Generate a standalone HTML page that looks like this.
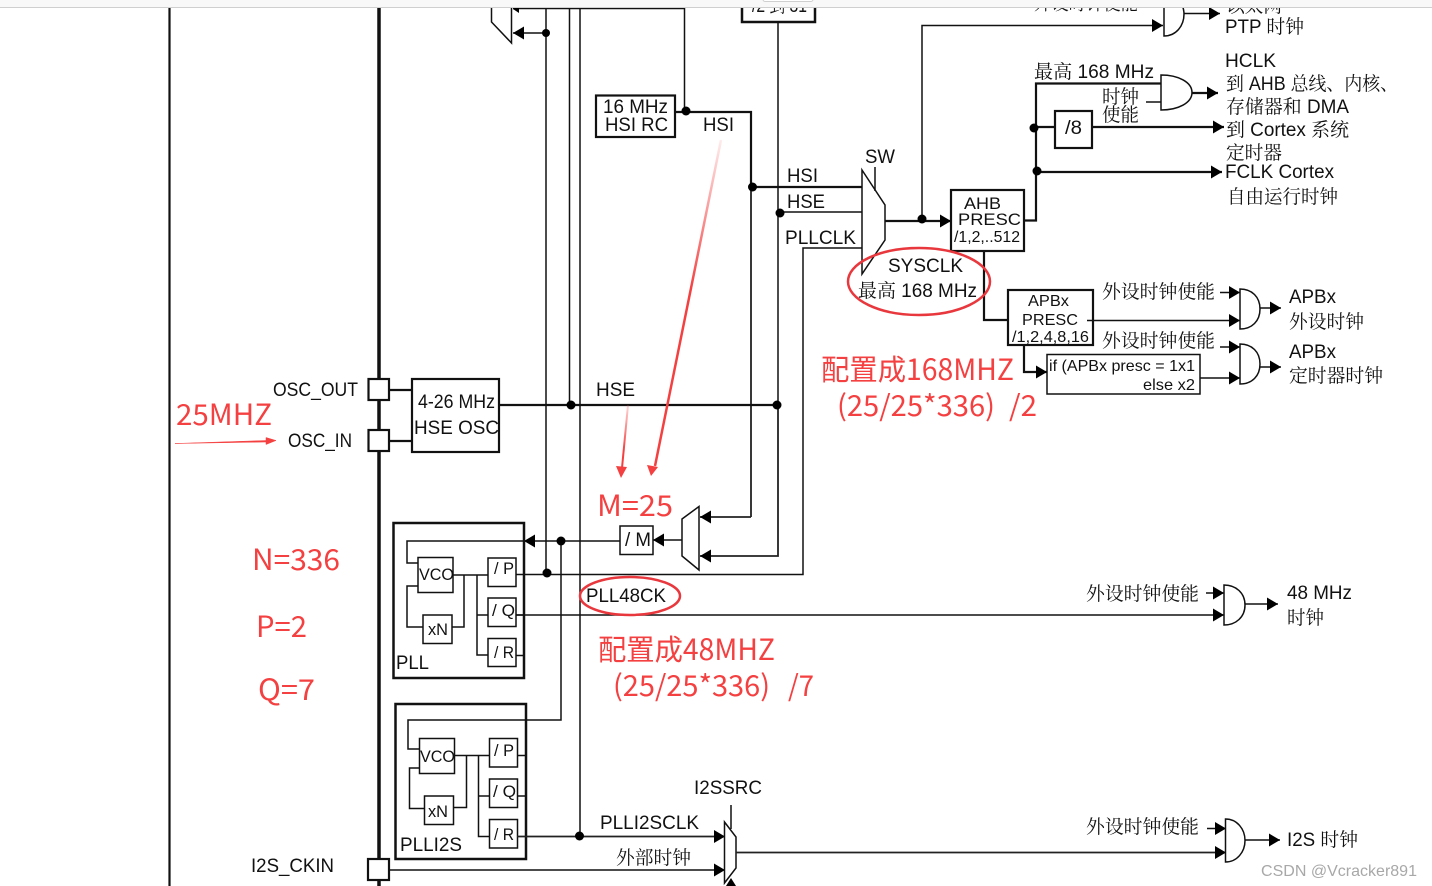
<!DOCTYPE html>
<html><head><meta charset="utf-8"><style>
html,body{margin:0;padding:0;background:#fff;width:1432px;height:886px;overflow:hidden}
svg{display:block}
text{font-family:"Liberation Sans","Noto Serif CJK SC",serif;font-size:19px;fill:#111}
.r text{font-family:"Noto Sans CJK SC","Liberation Sans",sans-serif;font-size:30px;fill:#f44040}
.n{fill:none;stroke:#111;stroke-width:1.5}
.m{fill:none;stroke:#222;stroke-width:1.800}
.t{fill:none;stroke:#111;stroke-width:2.2}
.b{fill:#fff;stroke:#111;stroke-width:2.2}
.s{fill:#fff;stroke:#111;stroke-width:1.5}
</style></head><body>
<svg width="1432" height="886" viewBox="0 0 1432 886" xmlns="http://www.w3.org/2000/svg">
<defs>
<marker id="a" markerUnits="userSpaceOnUse" markerWidth="12" markerHeight="14" refX="11" refY="7" orient="auto"><path d="M0 0.5L11 7L0 13.5z" fill="#000"/></marker>
<linearGradient id="f" gradientUnits="userSpaceOnUse" x1="721" y1="140" x2="690" y2="290"><stop offset="0" stop-color="#f44040" stop-opacity="0.1"/><stop offset="1" stop-color="#f44040"/></linearGradient>
<linearGradient id="f2" gradientUnits="userSpaceOnUse" x1="628" y1="405" x2="622" y2="450"><stop offset="0" stop-color="#f44040" stop-opacity="0.2"/><stop offset="1" stop-color="#f44040"/></linearGradient>
</defs>

<!-- main rails -->
<path class="t" d="M169.500 8V886"/>
<path fill="none" stroke="#111" stroke-width="3.500" d="M379 8V886"/>

<!-- clipped top labels -->
<text x="1226" y="12" textLength="56" lengthAdjust="spacingAndGlyphs">以太网</text>
<text x="1034" y="9.500" textLength="104" lengthAdjust="spacingAndGlyphs">外设时钟使能</text>
<text x="752" y="12" textLength="55" lengthAdjust="spacingAndGlyphs">/2 到 31</text>

<!-- long wires -->
<path class="n" d="M546 8V574M569.500 8V405M580 8V836M513 8.500H684.500V112"/>
<path class="n" marker-end="url(#a)" d="M546 33H513"/>
<path d="M513 9L519 5V13Z" fill="#000"/>
<path class="t" d="M675 112H751V187"/>
<path class="m" d="M751 187V517"/>
<path class="m" marker-end="url(#a)" d="M751 517H700"/>
<path class="n" d="M778 22V405"/>
<path class="m" marker-end="url(#a)" d="M778 405V556H700"/>
<path class="t" d="M752 187H862"/>
<path class="n" d="M780 212H862M862 248H803V574.500H516"/>
<path class="t" d="M499 405H777"/>
<path class="n" d="M561 541V720H408V749H419"/>
<path class="n" marker-end="url(#a)" d="M620 541H524"/>
<path class="n" d="M524 541H407V563H418M418 586H407V627H423M452 627H464V575M453 575H488M477 575V655H488M477 615H488M516 655.500H524"/>
<path class="n" d="M516 615H524"/>
<path class="n" marker-end="url(#a)" d="M516 615H1224"/>
<path class="n" marker-end="url(#a)" d="M682 540H653"/>

<!-- top left mux -->
<path class="s" d="M491.500 4V22L511.500 43V4"/>
<rect x="742" y="-10" width="73" height="32" fill="none" stroke="#111" stroke-width="2.500"/>

<!-- 16MHz -->
<rect class="b" x="596" y="95.500" width="79" height="41.500"/>

<!-- OSC -->
<rect class="b" x="368.500" y="379" width="20.500" height="21"/>
<rect class="b" x="368.500" y="430" width="20.500" height="21"/>
<rect class="b" x="368" y="859" width="21" height="21"/>
<path class="t" d="M389 390H412M389 441H412"/>
<rect class="b" x="412" y="379" width="87" height="73"/>

<!-- SW mux -->
<path class="s" d="M862 170L885 205V240L862 274Z"/>
<path class="n" d="M875 167V191"/>
<path class="t" stroke-width="2.500" marker-end="url(#a)" d="M885 221H951"/>
<path class="n" marker-end="url(#a)" d="M922 219V25.500H1163"/>

<!-- AHB -->
<rect class="b" x="951" y="190" width="73" height="61"/>
<path class="t" d="M1024 220.500H1036V83.500H1161"/>
<path class="n" d="M1146 102H1161"/>
<rect class="b" x="1055" y="111" width="37" height="37"/>
<path class="t" d="M1034 127H1055"/>
<path class="t" marker-end="url(#a)" d="M1092 127H1224"/>
<path class="t" marker-end="url(#a)" d="M1037 172H1222"/>
<path class="s" d="M1161 75C1178 75 1192 82 1192 92.500C1192 103 1178 110 1161 110Z"/>
<path class="t" marker-end="url(#a)" d="M1192 93H1218"/>
<!-- PTP -->
<path class="s" d="M1164 4V36C1176 36 1184 26 1184 14C1184 10 1183 7 1182 4"/>
<path class="n" marker-end="url(#a)" d="M1184 13.500H1220"/>

<!-- APB -->
<path class="t" d="M984 251V320H1008"/>
<rect class="b" x="1008" y="290" width="85" height="55"/>
<path class="t" marker-end="url(#a)" d="M1024 345V372H1047"/>
<rect class="s" x="1047" y="354.500" width="153" height="39.500"/>
<path class="n" marker-end="url(#a)" d="M1220 292.500H1240"/>
<path class="n" marker-end="url(#a)" d="M1087 320.500H1240"/>
<path class="n" marker-end="url(#a)" d="M1220 347H1240"/>
<path class="n" marker-end="url(#a)" d="M1200 378H1240"/>
<path class="s" d="M1240 289C1252 289 1260 297 1260 309C1260 321 1252 329 1240 329Z"/>
<path class="s" d="M1240 344C1252 344 1260 352 1260 364C1260 376 1252 384 1240 384Z"/>
<path class="n" marker-end="url(#a)" d="M1260 308H1281"/>
<path class="n" marker-end="url(#a)" d="M1260 367H1281"/>

<!-- M mux -->
<path class="s" d="M682 519L699 506.500V570L682 556Z"/>
<rect class="s" x="620" y="526" width="33" height="28.500"/>

<!-- PLL -->
<rect x="393.500" y="523" width="130.500" height="155" fill="none" stroke="#111" stroke-width="2.500"/>
<rect class="s" x="418" y="557.500" width="35" height="35"/>
<rect class="s" x="423" y="615" width="29" height="28.500"/>
<rect class="s" x="488" y="558" width="28" height="28.500"/>
<rect class="s" x="488" y="598" width="28" height="28.500"/>
<rect class="s" x="488" y="638.500" width="28" height="28"/>

<!-- PLLI2S -->
<rect x="395.500" y="704" width="130.500" height="155" fill="none" stroke="#111" stroke-width="2.500"/>
<path class="n" d="M419 768H409.500V808.500H424M453 807.500H466.500V755.500M455 755.500H489M478.500 755.500V836.500H489M478.500 796H489M517 755.500H526M517 796H526"/>
<rect class="s" x="419.500" y="738.500" width="35" height="35"/>
<rect class="s" x="424.500" y="796" width="29" height="28.500"/>
<rect class="s" x="489.500" y="738.500" width="28" height="28.500"/>
<rect class="s" x="489.500" y="779" width="28" height="28.500"/>
<rect class="s" x="489.500" y="819.500" width="28" height="28.500"/>
<path class="m" marker-end="url(#a)" d="M517 836.500H725"/>
<path class="n" marker-end="url(#a)" d="M389 870H725"/>

<!-- I2S mux -->
<path class="s" d="M724.500 822L736 837V868L724.500 883Z"/>
<path class="n" d="M731 805V829"/>
<path d="M726 886L731 878L736 886Z" fill="#000"/>
<path class="m" marker-end="url(#a)" d="M736 852.500H1226"/>
<path class="n" marker-end="url(#a)" d="M1207 828.500H1226"/>
<path class="s" d="M1225.500 819C1237 819 1245 829 1245 840.500C1245 852 1237 862 1225.500 862Z"/>
<path class="n" marker-end="url(#a)" d="M1245 840H1280"/>
<!-- 48 MHz gate -->
<path class="n" marker-end="url(#a)" d="M1206 593H1224"/>
<path class="s" d="M1224 585C1236 585 1245 593 1245 605C1245 617 1236 625 1224 625Z"/>
<path class="n" marker-end="url(#a)" d="M1245 604H1278"/>

<!-- dots -->
<g fill="#000">
<circle cx="546" cy="33" r="4"/><circle cx="686" cy="111" r="4.500"/><circle cx="752.500" cy="187" r="4.500"/><circle cx="780" cy="213" r="4.500"/>
<circle cx="922" cy="219" r="4.500"/><circle cx="1034" cy="128" r="4.500"/><circle cx="1037" cy="171" r="4.500"/>
<circle cx="571" cy="405" r="4.500"/><circle cx="777" cy="405" r="4.500"/><circle cx="561" cy="541" r="4.500"/><circle cx="547" cy="573" r="4.500"/><circle cx="579.500" cy="836" r="4.500"/>
</g>

<!-- labels -->
<text x="273" y="396" textLength="85" lengthAdjust="spacingAndGlyphs">OSC_OUT</text>
<text x="288" y="447" textLength="64" lengthAdjust="spacingAndGlyphs">OSC_IN</text>
<text x="251" y="872" textLength="83" lengthAdjust="spacingAndGlyphs">I2S_CKIN</text>
<text x="418" y="408" textLength="77" lengthAdjust="spacingAndGlyphs">4-26 MHz</text>
<text x="414" y="434" textLength="85" lengthAdjust="spacingAndGlyphs">HSE OSC</text>
<text x="596" y="396" textLength="39" lengthAdjust="spacingAndGlyphs">HSE</text>
<text x="603" y="113" textLength="65" lengthAdjust="spacingAndGlyphs">16 MHz</text>
<text x="605" y="131" textLength="63" lengthAdjust="spacingAndGlyphs">HSI RC</text>
<text x="703" y="131" textLength="31" lengthAdjust="spacingAndGlyphs">HSI</text>
<text x="787" y="182" textLength="31" lengthAdjust="spacingAndGlyphs">HSI</text>
<text x="787" y="208" textLength="38" lengthAdjust="spacingAndGlyphs">HSE</text>
<text x="785" y="244" textLength="71" lengthAdjust="spacingAndGlyphs">PLLCLK</text>
<text x="865" y="163" textLength="30" lengthAdjust="spacingAndGlyphs">SW</text>
<text x="888" y="272" textLength="75" lengthAdjust="spacingAndGlyphs">SYSCLK</text>
<text x="858" y="297" textLength="119" lengthAdjust="spacingAndGlyphs">最高 168 MHz</text>
<text x="1034" y="78" textLength="120" lengthAdjust="spacingAndGlyphs">最高 168 MHz</text>
<text x="1102" y="103" textLength="37" lengthAdjust="spacingAndGlyphs">时钟</text>
<text x="1102" y="121" textLength="37" lengthAdjust="spacingAndGlyphs">使能</text>
<text x="1065" y="134" textLength="17" lengthAdjust="spacingAndGlyphs">/8</text>
<text x="964" y="209" style="font-size:17px" textLength="37" lengthAdjust="spacingAndGlyphs">AHB</text>
<text x="958" y="225" style="font-size:17px" textLength="63" lengthAdjust="spacingAndGlyphs">PRESC</text>
<text x="954" y="242" style="font-size:16px" textLength="66" lengthAdjust="spacingAndGlyphs">/1,2,..512</text>
<text x="1028" y="306" style="font-size:16px" textLength="41" lengthAdjust="spacingAndGlyphs">APBx</text>
<text x="1022" y="325" style="font-size:16px" textLength="56" lengthAdjust="spacingAndGlyphs">PRESC</text>
<text x="1012" y="342" style="font-size:16px" textLength="77" lengthAdjust="spacingAndGlyphs">/1,2,4,8,16</text>
<text x="1049" y="371" style="font-size:16px" textLength="146" lengthAdjust="spacingAndGlyphs">if (APBx presc = 1x1</text>
<text x="1143" y="390" style="font-size:16px" textLength="52" lengthAdjust="spacingAndGlyphs">else x2</text>
<text x="1102" y="298" textLength="113" lengthAdjust="spacingAndGlyphs">外设时钟使能</text>
<text x="1102" y="347" textLength="113" lengthAdjust="spacingAndGlyphs">外设时钟使能</text>
<text x="1086" y="600" textLength="113" lengthAdjust="spacingAndGlyphs">外设时钟使能</text>
<text x="1086" y="833" textLength="113" lengthAdjust="spacingAndGlyphs">外设时钟使能</text>
<text x="1225" y="33" textLength="79" lengthAdjust="spacingAndGlyphs">PTP 时钟</text>
<text x="1225" y="67" textLength="51" lengthAdjust="spacingAndGlyphs">HCLK</text>
<text x="1226" y="90" textLength="172" lengthAdjust="spacingAndGlyphs">到 AHB 总线、内核、</text>
<text x="1226" y="113" textLength="123" lengthAdjust="spacingAndGlyphs">存储器和 DMA</text>
<text x="1226" y="136" textLength="123" lengthAdjust="spacingAndGlyphs">到 Cortex 系统</text>
<text x="1226" y="159" textLength="56" lengthAdjust="spacingAndGlyphs">定时器</text>
<text x="1225" y="178" textLength="109" lengthAdjust="spacingAndGlyphs">FCLK Cortex</text>
<text x="1227" y="203" textLength="111" lengthAdjust="spacingAndGlyphs">自由运行时钟</text>
<text x="1289" y="303" textLength="47" lengthAdjust="spacingAndGlyphs">APBx</text>
<text x="1289" y="328" textLength="75" lengthAdjust="spacingAndGlyphs">外设时钟</text>
<text x="1289" y="358" textLength="47" lengthAdjust="spacingAndGlyphs">APBx</text>
<text x="1289" y="382" textLength="94" lengthAdjust="spacingAndGlyphs">定时器时钟</text>
<text x="1287" y="599" textLength="65" lengthAdjust="spacingAndGlyphs">48 MHz</text>
<text x="1287" y="624" textLength="37" lengthAdjust="spacingAndGlyphs">时钟</text>
<text x="1287" y="846" textLength="71" lengthAdjust="spacingAndGlyphs">I2S 时钟</text>
<text x="694" y="794" textLength="68" lengthAdjust="spacingAndGlyphs">I2SSRC</text>
<text x="600" y="829" textLength="99" lengthAdjust="spacingAndGlyphs">PLLI2SCLK</text>
<text x="616" y="864" textLength="75" lengthAdjust="spacingAndGlyphs">外部时钟</text>
<text x="396" y="669" textLength="33" lengthAdjust="spacingAndGlyphs">PLL</text>
<text x="400" y="851" textLength="62" lengthAdjust="spacingAndGlyphs">PLLI2S</text>
<g>
<text x="419" y="580" style="font-size:17px" textLength="35" lengthAdjust="spacingAndGlyphs">VCO</text>
<text x="428" y="635" style="font-size:17px" textLength="20" lengthAdjust="spacingAndGlyphs">xN</text>
<text x="494" y="574" style="font-size:17px" textLength="20" lengthAdjust="spacingAndGlyphs">/ P</text>
<text x="492" y="616" style="font-size:17px" textLength="23" lengthAdjust="spacingAndGlyphs">/ Q</text>
<text x="494" y="658" style="font-size:17px" textLength="20" lengthAdjust="spacingAndGlyphs">/ R</text>
<text x="420" y="762" style="font-size:17px" textLength="35" lengthAdjust="spacingAndGlyphs">VCO</text>
<text x="428" y="817" style="font-size:17px" textLength="20" lengthAdjust="spacingAndGlyphs">xN</text>
<text x="494" y="756" style="font-size:17px" textLength="20" lengthAdjust="spacingAndGlyphs">/ P</text>
<text x="493" y="797" style="font-size:17px" textLength="23" lengthAdjust="spacingAndGlyphs">/ Q</text>
<text x="494" y="840" style="font-size:17px" textLength="20" lengthAdjust="spacingAndGlyphs">/ R</text>
</g>
<text x="625" y="546" textLength="26" lengthAdjust="spacingAndGlyphs">/ M</text>
<text x="586" y="602" textLength="80" lengthAdjust="spacingAndGlyphs">PLL48CK</text>
<text x="1261" y="876" style="font-size:16px;fill:#a8a8a8;font-family:'Liberation Sans',sans-serif" textLength="156" lengthAdjust="spacingAndGlyphs">CSDN @Vcracker891</text>

<!-- red annotations -->
<ellipse cx="919" cy="281.500" rx="71" ry="33.500" fill="none" stroke="#e8383d" stroke-width="2.500"/>
<ellipse cx="630" cy="596" rx="50" ry="19" fill="none" stroke="#e8383d" stroke-width="2.500"/>
<path d="M721 140L655 466" fill="none" stroke="url(#f)" stroke-width="2.500"/>
<path d="M651 476L647 465L658 467Z" fill="#f44040"/>
<path d="M628 405L622 468" fill="none" stroke="url(#f2)" stroke-width="2"/>
<path d="M621 478L616 466L627 467Z" fill="#f44040"/>
<path d="M175 443.500L266 440.500V437.500L276 440.500L266 444.500V442Z" fill="#f44040" stroke="#f44040" stroke-width="0.500"/>
<g class="r">
<text x="176" y="425" style="font-size:29px" textLength="96" lengthAdjust="spacingAndGlyphs">25MHZ</text>
<text x="821" y="380" style="font-size:29px" textLength="193" lengthAdjust="spacingAndGlyphs">配置成168MHZ</text>
<text x="837" y="416" style="font-size:29px" textLength="158" lengthAdjust="spacingAndGlyphs">(25/25*336)</text>
<text x="1009" y="416" style="font-size:29px" textLength="28" lengthAdjust="spacingAndGlyphs">/2</text>
<text x="598" y="660" style="font-size:29px" textLength="177" lengthAdjust="spacingAndGlyphs">配置成48MHZ</text>
<text x="613" y="696" style="font-size:29px" textLength="157" lengthAdjust="spacingAndGlyphs">(25/25*336)</text>
<text x="788" y="696" style="font-size:29px" textLength="26" lengthAdjust="spacingAndGlyphs">/7</text>
<text x="597" y="516" style="font-size:29px" textLength="76" lengthAdjust="spacingAndGlyphs">M=25</text>
<text x="252" y="570" style="font-size:29px" textLength="88" lengthAdjust="spacingAndGlyphs">N=336</text>
<text x="256" y="637" style="font-size:29px" textLength="51" lengthAdjust="spacingAndGlyphs">P=2</text>
<text x="258" y="700" style="font-size:29px" textLength="57" lengthAdjust="spacingAndGlyphs">Q=7</text>
</g>

<!-- top chrome bar -->
<rect x="0" y="0" width="1432" height="7" fill="#f8f8f8"/>
<rect x="0" y="7" width="1432" height="1" fill="#cfcfcf"/>
<rect x="763" y="-4" width="50" height="5.500" rx="2" fill="#fff" stroke="#cfcfcf"/>
</svg>
</body></html>
